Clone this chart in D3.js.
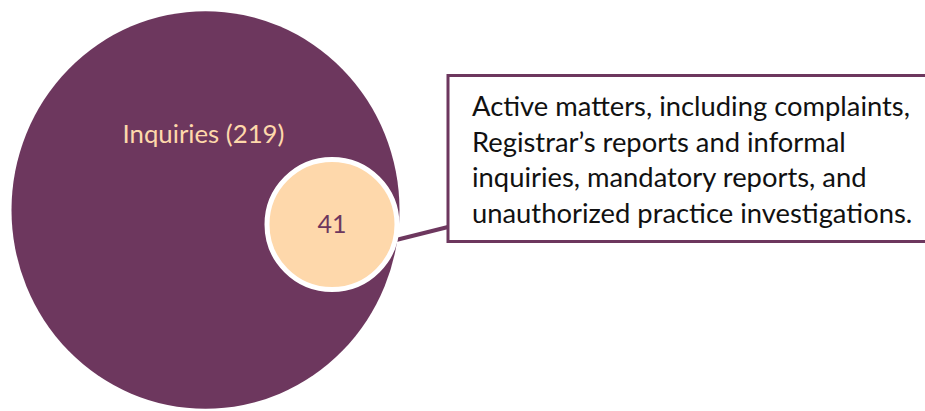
<!DOCTYPE html>
<html>
  <head>
    <meta charset="utf-8">
    <script src="https://d3js.org/d3.v7.min.js"></script>
    <style>
      body { margin: 0; background: white; font-family: Lato, "Open Sans", sans-serif; }
    </style>
  </head>
  <body>
    <script>
      // data
      var groups = ["Inquiries", "Active matters"];
      var counts = [219, 41];
      var labels = ["Inquiries (219)", "41"];
      var noteLines = [
        "Active matters, including complaints,",
        "Registrar\u2019s reports and informal",
        "inquiries, mandatory reports, and",
        "unauthorized practice investigations."
      ];

      var purple = "#6d375e", peach = "#fed8ab";
      var width = 925, height = 411;

      var svg = d3.select("body").append("svg")
        .attr("width", width)
        .attr("height", height);

      // radius scale (outer edge incl. white rim for the small one)
      var r = d3.scaleLinear().domain([41, 219]).range([65, 194]);
      var stretchY = 1.025;

      var bigCx = 205.5, bigCy = 210;
      var rBig = r(counts[0]), rSmall = r(counts[1]);
      // small circle sits inside, touching the right edge
      var smallCx = bigCx + rBig - rSmall - 2.5;
      var smallCy = bigCy + 14.5;

      svg.append("ellipse")
        .attr("cx", bigCx).attr("cy", bigCy)
        .attr("rx", rBig).attr("ry", rBig * stretchY)
        .attr("fill", purple);

      // connector
      svg.append("line")
        .attr("x1", smallCx + rSmall - 1).attr("y1", 240)
        .attr("x2", 448).attr("y2", 227)
        .attr("stroke", purple)
        .attr("stroke-width", 4);

      svg.append("circle")
        .attr("cx", smallCx).attr("cy", smallCy)
        .attr("r", rSmall)
        .attr("fill", peach)
        .attr("stroke", "white")
        .attr("stroke-width", 5);

      function fitText(sel, target) {
        var w = sel.node().getComputedTextLength();
        var fs = parseFloat(sel.attr("font-size"));
        sel.attr("font-size", fs * target / w);
      }

      var t1 = svg.append("text")
        .attr("x", bigCx - 2).attr("y", 142.5)
        .attr("text-anchor", "middle")
        .attr("font-size", 24)
        .attr("fill", peach)
        .text(labels[0]);
      fitText(t1, 162);

      var t2 = svg.append("text")
        .attr("x", smallCx).attr("y", 233)
        .attr("text-anchor", "middle")
        .attr("font-size", 24)
        .attr("fill", purple)
        .text(labels[1]);
      fitText(t2, 29);

      // note box
      svg.append("rect")
        .attr("x", 448).attr("y", 75.5)
        .attr("width", 500).attr("height", 166)
        .attr("fill", "white")
        .attr("stroke", purple)
        .attr("stroke-width", 3);

      var note = svg.append("g");
      note.selectAll("text")
        .data(noteLines)
        .enter().append("text")
        .attr("x", 472)
        .attr("y", function(d, i) { return 116 + i * 35.5; })
        .attr("font-size", 23)
        .attr("fill", "#111")
        .text(function(d) { return d; });

      // scale all lines to first line width
      var first = note.select("text").node().getComputedTextLength();
      var fs = 23 * 438 / first;
      note.selectAll("text").attr("font-size", fs);
    </script>
  </body>
</html>
